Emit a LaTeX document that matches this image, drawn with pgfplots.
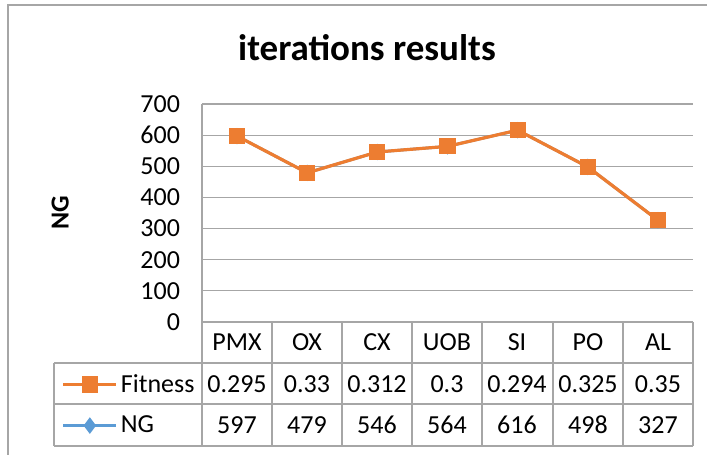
\documentclass[border=0pt]{standalone}
\usepackage{pgfplots}
\usepackage{pgfplotstable}
\pgfplotsset{compat=1.18}
\usepackage{fontspec}
\setmainfont{Carlito}
\definecolor{xlorange}{HTML}{ED7D31}
\definecolor{xlblue}{HTML}{5B9BD5}
\definecolor{gridgray}{HTML}{A6A6A6}
\pgfplotstableread{
x ng fit
0 597 0.295
1 479 0.33
2 546 0.312
3 564 0.3
4 616 0.294
5 498 0.325
6 327 0.35
}\datatable
\begin{document}
\begin{tikzpicture}
\useasboundingbox (0,0) rectangle (353.5pt,-227.5pt);
% outer chart border
\draw[gridgray, line width=0.75pt] (4pt,-240pt) -- (4pt,-2.5pt) -- (360pt,-2.5pt);
\begin{axis}[
  at={(101pt,-161pt)}, anchor=south west,
  scale only axis, width=245.5pt, height=109pt,
  xmin=-0.5, xmax=6.5, ymin=0, ymax=700,
  ytick={0,100,...,700},
  xtick=\empty,
  ymajorgrids, grid style={gridgray, line width=0.6pt},
  axis x line*=bottom, axis y line*=left,
  axis line style={gridgray, line width=0.6pt},
  major tick length=0pt,
  tick label style={font=\fontsize{13}{15}\selectfont, black},
  /pgf/number format/assume math mode=true,
  yticklabel style={xshift=-7.5pt},
  title={iterations results},
  title style={font=\bfseries\fontsize{18.5}{22}\selectfont, at={(axis description cs:0.336,1.202)}, anchor=center},
  ylabel={NG},
  every axis y label/.style={at={(axis description cs:-0.289,0.5)}, rotate=90, anchor=center, font=\bfseries\fontsize{13}{15}\selectfont},
  clip=false,
  reverse legend=true,
  legend image code/.code={\draw[mark repeat=2, mark phase=2, #1] plot coordinates {(0pt,0pt) (13.25pt,0pt) (26.5pt,0pt)};},
  legend style={at={(axis description cs:-0.2857,-0.193)}, anchor=north west, draw=none, fill=none, inner sep=0pt, outer sep=0pt,
    row sep=0pt, font=\fontsize{13}{15}\selectfont,
    nodes={inner sep=1.5pt, minimum height=20.5pt, anchor=west}},
  legend cell align=left,
]
\addplot[xlblue, line width=1.4pt, mark=diamond*, mark size=3pt] table[x=x, y=ng] {\datatable};
\addlegendentry{NG}
\addplot[xlorange, line width=1.6pt, mark=square*, mark size=3.25pt, mark options={solid}] table[x=x, y=ng] {\datatable};
\addlegendentry{Fitness}
\end{axis}
\begin{scope}[x=0.5pt, y=-0.5pt, font=\fontsize{13}{15}\selectfont]
\draw[gridgray, line width=0.6pt] (54,363) -- (693,363) (54,404) -- (693,404) (54,446) -- (693,446) (54,363) -- (54,446);
\foreach \xx in {202,272,342,412,482,553,623,693} {\draw[gridgray, line width=0.6pt] (\xx,322) -- (\xx,446);}
\foreach \xx/\t in {237/PMX,307/OX,377/CX,447/UOB,517/SI,588/PO,658/AL} {\node at (\xx,342.5) {\t};}
\foreach \xx/\t in {237/0.295,307/0.33,377/0.312,447/0.3,517/0.294,588/0.325,658/0.35} {\node at (\xx,384) {\t};}
\foreach \xx/\t in {237/597,307/479,377/546,447/564,517/616,588/498,658/327} {\node at (\xx,425) {\t};}
\end{scope}
\end{tikzpicture}
\end{document}
